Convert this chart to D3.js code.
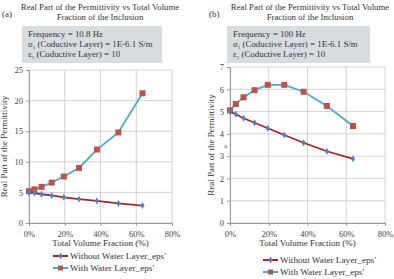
<!DOCTYPE html>
<html>
<head>
<meta charset="utf-8">
<script src="https://cdn.jsdelivr.net/npm/d3@7"></script>
<style>
body { margin: 0; background: #fff; }
svg { display: block; font-family: "Liberation Serif", "DejaVu Serif", serif; }
</style>
</head>
<body>
<div id="chart"></div>
<script>
// volume fractions (%) shared by both panels
var fractions = [0, 3, 7, 12.7, 19.5, 28, 38, 50, 63.5];

// panel (a) 10.8 Hz
var withoutA = [5.0, 4.9, 4.7, 4.5, 4.2, 3.9, 3.6, 3.2, 2.85];
var withA = [5.2, 5.5, 5.9, 6.6, 7.6, 9.0, 12.0, 14.8, 21.2];

// panel (b) 100 Hz
var withoutB = [5.0, 4.88, 4.7, 4.5, 4.25, 3.95, 3.6, 3.22, 2.88];
var withB = [5.05, 5.34, 5.64, 5.96, 6.2, 6.2, 5.89, 5.25, 4.35];

var xTicks = [0, 20, 40, 60, 80];
var yTicksA = [0, 5, 10, 15, 20, 25];
var yTicksB = [0, 1, 2, 3, 4, 5, 6, 7];
var seriesNames = ["Without Water Layer_eps'", "With Water Layer_eps'"];

var W = 394, H = 279;
var svg = d3.select("#chart").append("svg")
	.attr("width", W)
	.attr("height", H);

var cWithoutLine = "#a3242e", cWithoutMark = "#4f81bd";
var cWithLine = "#4bacc6", cWithMark = "#c0504d";

function panel(opt) {
	var x = d3.scaleLinear().domain([0, 80]).range([opt.x0, opt.x1]);
	var y = d3.scaleLinear().domain([0, opt.yMax]).range([opt.y0, opt.y1]);
	var g = svg.append("g");

	// title
	g.append("text").attr("x", opt.cx).attr("y", 10).attr("text-anchor", "middle")
		.attr("font-size", 8.8).attr("fill", "#333").text("Real Part of the Permittivity vs Total Volume");
	g.append("text").attr("x", opt.cx).attr("y", 20).attr("text-anchor", "middle")
		.attr("font-size", 8.8).attr("fill", "#333").text("Fraction of the Inclusion");
	g.append("text").attr("x", opt.lx).attr("y", 17).attr("font-size", 9)
		.attr("fill", "#333").text(opt.letter);

	// info box
	g.append("rect").attr("x", opt.bx).attr("y", 26).attr("width", opt.bw).attr("height", 37)
		.attr("fill", "#d8dde1");
	var lines = opt.info;
	lines.forEach(function(l, i) {
		var t = g.append("text").attr("x", opt.bx + 6).attr("y", 37 + i * 10)
			.attr("font-size", 8.9).attr("fill", "#333");
		t.append("tspan").text(l[0]);
		t.append("tspan").attr("font-size", 5).attr("dy", 2).text(l[1]);
		t.append("tspan").attr("dy", -2).text(l[2]);
	});

	// grid
	g.selectAll(".gx").data(xTicks).enter().append("line")
		.attr("x1", d => x(d)).attr("x2", d => x(d))
		.attr("y1", y(0)).attr("y2", y(opt.yMax))
		.attr("stroke", "#c8c8c8").attr("stroke-width", 0.8);
	g.selectAll(".gy").data(opt.yTicks).enter().append("line")
		.attr("x1", x(0)).attr("x2", x(80))
		.attr("y1", d => y(d)).attr("y2", d => y(d))
		.attr("stroke", "#c8c8c8").attr("stroke-width", 0.8);

	// axes
	var ax = g.append("g").attr("transform", "translate(0," + y(0) + ")")
		.call(d3.axisBottom(x).tickValues(xTicks).tickSize(3).tickFormat(d => d + "%"));
	var ay = g.append("g").attr("transform", "translate(" + x(0) + ",0)")
		.call(d3.axisLeft(y).tickValues(opt.yTicks).tickSize(3).tickFormat(d3.format("d")));
	[ax, ay].forEach(function(a) {
		a.select(".domain").attr("stroke", "#999");
		a.selectAll(".tick line").attr("stroke", "#999");
		a.selectAll("text").attr("font-family", "Liberation Serif, serif")
			.attr("font-size", 8.5).attr("fill", "#444");
	});
	ax.selectAll("text").attr("dy", "0.9em");

	// axis titles
	g.append("text").attr("x", (x(0) + x(80)) / 2).attr("y", 246).attr("text-anchor", "middle")
		.attr("font-size", 9).attr("fill", "#333").text("Total Volume Fraction (%)");
	g.append("text").attr("transform", "translate(" + opt.ytx + "," + (y(0) + y(opt.yMax)) / 2 + ") rotate(-90)")
		.attr("text-anchor", "middle").attr("font-size", 9).attr("fill", "#333")
		.text("Real Part of the Permittivity");

	var line = d3.line().x((d, i) => x(fractions[i])).y(d => y(d));

	// with water
	g.append("path").datum(opt.withV).attr("d", line).attr("fill", "none")
		.attr("stroke", cWithLine).attr("stroke-width", 1.8);
	g.selectAll(".sq").data(opt.withV).enter().append("rect")
		.attr("x", (d, i) => x(fractions[i]) - 3).attr("y", d => y(d) - 3)
		.attr("width", 6).attr("height", 6).attr("fill", cWithMark);

	// without water
	g.append("path").datum(opt.withoutV).attr("d", line).attr("fill", "none")
		.attr("stroke", cWithoutLine).attr("stroke-width", 1.8);
	g.selectAll(".dm").data(opt.withoutV).enter().append("path")
		.attr("d", d3.symbol(d3.symbolDiamond, 14))
		.attr("transform", (d, i) => "translate(" + x(fractions[i]) + "," + y(d) + ")")
		.attr("fill", cWithoutMark);

	// legend
	var lg = g.append("g");
	[[cWithoutLine, cWithoutMark, "d"], [cWithLine, cWithMark, "s"]].forEach(function(c, i) {
		var ly = opt.legY + i * 12;
		lg.append("line").attr("x1", opt.legX).attr("x2", opt.legX + 15)
			.attr("y1", ly).attr("y2", ly).attr("stroke", c[0]).attr("stroke-width", 2);
		if (c[2] == "d") {
			lg.append("path").attr("d", d3.symbol(d3.symbolDiamond, 14))
				.attr("transform", "translate(" + (opt.legX + 7.5) + "," + ly + ")").attr("fill", c[1]);
		} else {
			lg.append("rect").attr("x", opt.legX + 5).attr("y", ly - 2.5).attr("width", 5).attr("height", 5)
				.attr("fill", c[1]);
		}
		lg.append("text").attr("x", opt.legX + 17).attr("y", ly + 3).attr("font-size", 9.2)
			.attr("fill", "#333").text(seriesNames[i]);
	});
	return { x: x, y: y, g: g };
}

panel({
	x0: 29, x1: 172, y0: 223, y1: 70, yMax: 25, yTicks: yTicksA, cx: 100, lx: 2, letter: "(a)",
	bx: 22, bw: 140, ytx: 7, legX: 53, legY: 256, withV: withA, withoutV: withoutA,
	info: [["Frequency = 10.8 Hz", "", ""], ["σ", "1", " (Coductive Layer) = 1E-6.1 S/m"], ["ε", "1", " (Coductive Layer) = 10"]]
});
var pb = panel({
	x0: 230, x1: 385, y0: 223, y1: 67, yMax: 7, yTicks: yTicksB, cx: 310, lx: 209, letter: "(b)",
	bx: 227, bw: 143, ytx: 214, legX: 263, legY: 260, withV: withB, withoutV: withoutB,
	info: [["Frequency = 100 Hz", "", ""], ["σ", "1", " (Coductive Layer) = 1E-6.1 S/m"], ["ε", "1", " (Coductive Layer) = 10"]]
});
// stray label in the original figure
pb.g.append("text").attr("x", 224).attr("y", 148).attr("font-size", 7).attr("fill", "#555").text("a");
</script>
</body>
</html>
